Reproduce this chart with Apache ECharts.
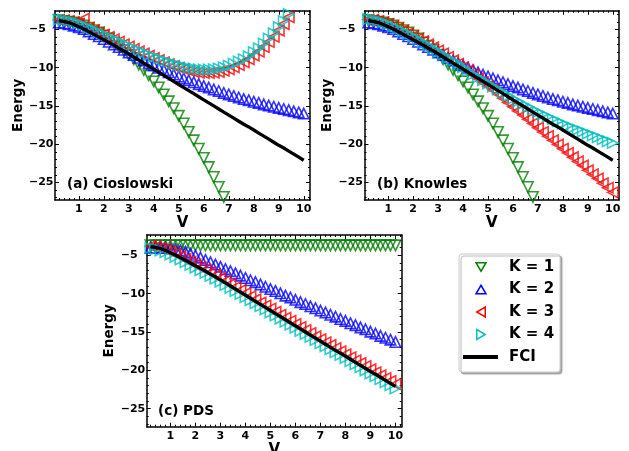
<!DOCTYPE html>
<html>
<head>
<meta charset="utf-8">
<script src="https://cdn.jsdelivr.net/npm/echarts@6/dist/echarts.min.js"></script>
<style>
  html, body { margin: 0; padding: 0; background: #fff; }
  #chart { width: 629px; height: 451px; }
</style>
</head>
<body>
<div id="chart"></div>
<script>
// coupling strength V (x values of every curve)
const V = [0.2, 0.4, 0.6, 0.8, 1.0, 1.2, 1.4, 1.6, 1.8, 2.0,
  2.2, 2.4, 2.6, 2.8, 3.0, 3.2, 3.4, 3.6, 3.8, 4.0,
  4.2, 4.4, 4.6, 4.8, 5.0, 5.2, 5.4, 5.6, 5.8, 6.0,
  6.2, 6.4, 6.6, 6.8, 7.0, 7.2, 7.4, 7.6, 7.8, 8.0,
  8.2, 8.4, 8.6, 8.8, 9.0, 9.2, 9.4, 9.6, 9.8, 10.0]

const X_TICKS = [1, 2, 3, 4, 5, 6, 7, 8, 9, 10]
const Y_TICKS = [-25, -20, -15, -10, -5]

// exact energy, same in the three panels
const FCI = [-3.85, -3.95, -4.1, -4.35, -4.65, -4.95, -5.3, -5.65, -6.0, -6.35,
  -6.7, -7.05, -7.45, -7.8, -8.2, -8.6, -9.0, -9.4, -9.8, -10.2,
  -10.6, -11.0, -11.4, -11.8, -12.2, -12.6, -13.0, -13.4, -13.8, -14.2,
  -14.6, -15.0, -15.4, -15.8, -16.2, -16.6, -17.0, -17.4, -17.75, -18.15,
  -18.55, -18.95, -19.35, -19.75, -20.15, -20.5, -20.9, -21.3, -21.7, -22.1]

// (a) Cioslowski
const CIOS_K1 = [-3.8, -3.9, -4.0, -4.1, -4.3, -4.5, -4.8, -5.1, -5.4, -5.8,
  -6.2, -6.7, -7.2, -7.7, -8.3, -8.9, -9.6, -10.3, -11.0, -11.8,
  -12.6, -13.5, -14.4, -15.3, -16.3, -17.3, -18.4, -19.5, -20.6, -21.8,
  -23.0, -24.3, -25.6, -26.9]
const CIOS_K2 = [-4.1, -4.2, -4.3, -4.5, -4.7, -4.95, -5.25, -5.6, -5.9, -6.25,
  -6.6, -6.95, -7.3, -7.65, -8.0, -8.35, -8.7, -9.05, -9.4, -9.7,
  -10.0, -10.3, -10.6, -10.9, -11.15, -11.4, -11.65, -11.9, -12.15, -12.4,
  -12.6, -12.85, -13.05, -13.3, -13.5, -13.7, -13.9, -14.1, -14.25, -14.45,
  -14.6, -14.8, -14.95, -15.1, -15.25, -15.4, -15.55, -15.7, -15.85, -16.0]
const CIOS_K3 = [-3.75, -3.8, -3.9, -4.05, -4.25, -3.6, -4.8, -5.1, -5.4, -5.7,
  -6.0, -6.3, -6.6, -6.95, -7.25, -7.55, -7.85, -8.15, -8.45, -8.75,
  -9.0, -9.3, -9.55, -9.8, -10.0, -10.2, -10.4, -10.55, -10.65, -10.7,
  -10.7, -10.65, -10.55, -10.4, -10.2, -9.95, -9.65, -9.3, -8.9, -8.4,
  -7.9, -7.3, -6.65, -5.95, -5.15, -4.3, -3.4, -2.5]
const CIOS_K4 = [-3.7, -3.75, -3.85, -4.0, -4.2, -4.45, -4.75, -5.05, -5.35, -5.65,
  -5.95, -6.25, -6.55, -6.85, -7.15, -7.45, -7.75, -8.0, -8.3, -8.55,
  -8.8, -9.05, -9.25, -9.45, -9.65, -9.85, -10.0, -10.1, -10.2, -10.25,
  -10.25, -10.2, -10.1, -9.95, -9.75, -9.5, -9.2, -8.9, -8.5, -7.95,
  -7.45, -6.85, -6.2, -5.5, -4.7, -3.9, -3.0, -2.1]

// (b) Knowles
const KNOW_K1 = CIOS_K1
const KNOW_K2 = CIOS_K2
const KNOW_K3 = [-3.7, -3.75, -3.9, -4.05, -4.3, -4.55, -4.85, -5.15, -5.5, -5.85,
  -6.2, -6.55, -6.95, -7.35, -7.75, -8.15, -8.6, -9.05, -9.5, -9.95,
  -10.4, -10.9, -11.4, -11.9, -12.4, -12.9, -13.45, -14.0, -14.55, -15.1,
  -15.65, -16.2, -16.75, -17.3, -17.85, -18.4, -18.95, -19.5, -20.05, -20.6,
  -21.15, -21.7, -22.25, -22.8, -23.4, -23.95, -24.5, -25.1, -25.7, -26.3]
const KNOW_K4 = [-3.65, -3.7, -3.85, -4.05, -4.3, -4.6, -4.9, -5.25, -5.6, -5.95,
  -6.3, -6.7, -7.1, -7.5, -7.9, -8.3, -8.7, -9.1, -9.5, -9.95,
  -10.4, -10.85, -11.25, -11.65, -12.05, -12.45, -12.85, -13.25, -13.65, -14.05,
  -14.4, -14.75, -15.1, -15.45, -15.8, -16.1, -16.4, -16.7, -17.0, -17.3,
  -17.6, -17.85, -18.1, -18.35, -18.6, -18.85, -19.1, -19.35, -19.6, -19.85]

// (c) PDS
const PDS_K1 = [-3.7, -3.7, -3.7, -3.7, -3.7, -3.7, -3.7, -3.7, -3.7, -3.7,
  -3.7, -3.7, -3.7, -3.7, -3.7, -3.7, -3.7, -3.7, -3.7, -3.7,
  -3.7, -3.7, -3.7, -3.7, -3.7, -3.7, -3.7, -3.7, -3.7, -3.7,
  -3.7, -3.7, -3.7, -3.7, -3.7, -3.7, -3.7, -3.7, -3.7, -3.7,
  -3.7, -3.7, -3.7, -3.7, -3.7, -3.7, -3.7, -3.7, -3.7, -3.7]
const PDS_K2 = [-4.0, -4.0, -4.0, -4.05, -4.1, -4.2, -4.35, -4.55, -4.8, -5.05,
  -5.3, -5.6, -5.9, -6.2, -6.5, -6.8, -7.05, -7.35, -7.65, -7.95,
  -8.25, -8.5, -8.8, -9.1, -9.4, -9.65, -9.95, -10.25, -10.5, -10.8,
  -11.1, -11.35, -11.65, -11.9, -12.2, -12.45, -12.75, -13.0, -13.3, -13.55,
  -13.85, -14.1, -14.4, -14.65, -14.95, -15.2, -15.5, -15.75, -16.0, -16.3]
const PDS_K3 = [-3.8, -3.9, -4.05, -4.25, -4.5, -4.8, -5.15, -5.5, -5.85, -6.2,
  -6.55, -6.9, -7.25, -7.6, -8.0, -8.35, -8.75, -9.15, -9.55, -9.95,
  -10.35, -10.75, -11.15, -11.55, -11.95, -12.35, -12.75, -13.15, -13.55, -13.95,
  -14.35, -14.75, -15.15, -15.55, -15.95, -16.35, -16.7, -17.1, -17.5, -17.9,
  -18.3, -18.7, -19.05, -19.45, -19.85, -20.25, -20.65, -21.0, -21.4, -21.8]
const PDS_K4 = [-4.05, -4.2, -4.35, -4.6, -4.9, -5.2, -5.55, -5.9, -6.25, -6.6,
  -6.95, -7.3, -7.7, -8.05, -8.45, -8.85, -9.25, -9.65, -10.05, -10.45,
  -10.85, -11.25, -11.65, -12.05, -12.45, -12.85, -13.25, -13.65, -14.05, -14.45,
  -14.85, -15.25, -15.65, -16.05, -16.45, -16.85, -17.25, -17.65, -18.0, -18.4,
  -18.8, -19.2, -19.6, -20.0, -20.4, -20.75, -21.15, -21.55, -21.95, -22.35]

const FONT = 'DejaVu Sans'
const K_STYLE = [
  { name: 'K = 1', color: '#008000', rotate: 180 },
  { name: 'K = 2', color: '#0000ff', rotate: 0 },
  { name: 'K = 3', color: '#ff0000', rotate: 90 },
  { name: 'K = 4', color: '#00bfbf', rotate: -90 },
]

const panels = [
  { grid: { left: 55, top: 10.7, width: 255, height: 189.3 }, ymin: -27.3, ymax: -2.55,
    label: '(a) Cioslowski', labelPos: [67, 177], data: [CIOS_K1, CIOS_K2, CIOS_K3, CIOS_K4] },
  { grid: { left: 364.5, top: 10.7, width: 254.5, height: 189.3 }, ymin: -27.3, ymax: -2.55,
    label: '(b) Knowles', labelPos: [377, 177], data: [KNOW_K1, KNOW_K2, KNOW_K3, KNOW_K4] },
  { grid: { left: 146.7, top: 235, width: 255, height: 191.7 }, ymin: -27.35, ymax: -2.35,
    label: '(c) PDS', labelPos: [158, 404], data: [PDS_K1, PDS_K2, PDS_K3, PDS_K4] },
]

// minor ticks every 0.2 on x and every 1 on y
const xMinor = []
for (let i = 1; i <= 51; i++) if (i % 5) xMinor.push(+(i * 0.2).toFixed(1))
const yMinor = []
for (let v = -27; v <= -3; v++) if (v % 5) yMinor.push(v)

const tickLabel = {
  fontFamily: FONT, fontWeight: 'bold', fontSize: 11, color: '#000',
  formatter: v => (v < 0 ? '\u2212' + Math.abs(v) : String(v)),
}
const frameLine = { show: true, onZero: false, lineStyle: { color: '#000', width: 1.5 } }

function axes(p, dim, min, max, major, minor) {
  const base = {
    type: 'value', gridIndex: p, min, max, scale: true,
    splitLine: { show: false }, axisLine: { show: false, onZero: false },
    axisLabel: { show: false }, axisTick: { show: false },
  }
  const tick = (vals, len) => ({
    show: true, inside: true, length: len, customValues: vals,
    lineStyle: { color: '#000', width: 1 },
  })
  const isX = dim === 'x'
  const sides = isX ? ['bottom', 'top'] : ['left', 'right']
  const name = isX
    ? { name: 'V', nameLocation: 'middle', nameGap: 13,
        nameTextStyle: { fontFamily: FONT, fontWeight: 'bold', fontSize: 15, color: '#000' } }
    : { name: 'Energy', nameLocation: 'middle', nameGap: 26,
        nameTextStyle: { fontFamily: FONT, fontWeight: 'bold', fontSize: 13.5, color: '#000' } }
  // y labels in the original sit flush left, so "−5" ends short of the others
  const labelPlace = isX ? { margin: 4 } : { margin: 26, align: 'left' }
  return [
    { ...base, ...name, position: sides[0], axisLine: frameLine, axisTick: tick(major, 4),
      axisLabel: { show: true, customValues: major, ...labelPlace, ...tickLabel } },
    { ...base, position: sides[0], axisTick: tick(minor, 2) },
    { ...base, position: sides[1], axisLine: frameLine, axisTick: tick(major, 4) },
    { ...base, position: sides[1], axisTick: tick(minor, 2) },
  ]
}

const grids = []
const xAxis = []
const yAxis = []
const series = []
const graphic = []

panels.forEach((pn, p) => {
  grids.push({ ...pn.grid, outerBoundsMode: 'none', containLabel: false })
  xAxis.push(...axes(p, 'x', 0.05, 10.25, X_TICKS, xMinor))
  yAxis.push(...axes(p, 'y', pn.ymin, pn.ymax, Y_TICKS, yMinor))
  pn.data.forEach((vals, k) => {
    series.push({
      type: 'scatter',
      name: K_STYLE[k].name,
      xAxisIndex: 4 * p,
      yAxisIndex: 4 * p,
      data: vals.map((e, i) => [V[i], e]),
      symbol: 'triangle',
      symbolSize: 10.5,
      symbolRotate: K_STYLE[k].rotate,
      itemStyle: { color: 'rgba(0,0,0,0)', borderColor: K_STYLE[k].color, borderWidth: 1.6 },
      silent: true,
      z: 2 + k,
    })
  })
  series.push({
    type: 'line',
    name: 'FCI',
    xAxisIndex: 4 * p,
    yAxisIndex: 4 * p,
    data: FCI.map((e, i) => [V[i], e]),
    symbol: 'none',
    lineStyle: { color: '#000', width: 3.3 },
    silent: true,
    z: 8,
  })
  graphic.push({
    type: 'text', left: pn.labelPos[0], top: pn.labelPos[1], z: 20,
    style: { text: pn.label, font: `bold 13.5px "${FONT}"`, fill: '#000' },
  })
})

// legend box drawn by hand, lower right
const LEG_X = 481
const LEG_ROWS = [267, 289.5, 312, 334.5, 357]
const tri = (cx, cy, dir) => {
  const s = 5
  const pts = {
    down: [[cx - s, cy - s * 0.85], [cx + s, cy - s * 0.85], [cx, cy + s * 0.85]],
    up: [[cx - s, cy + s * 0.85], [cx + s, cy + s * 0.85], [cx, cy - s * 0.85]],
    left: [[cx + s * 0.85, cy - s], [cx + s * 0.85, cy + s], [cx - s * 0.85, cy]],
    right: [[cx - s * 0.85, cy - s], [cx - s * 0.85, cy + s], [cx + s * 0.85, cy]],
  }
  return pts[dir]
}
graphic.push({
  type: 'rect', z: 30,
  shape: { x: 459, y: 254, width: 101, height: 118, r: 3 },
  style: { fill: '#fff', stroke: '#cccccc', lineWidth: 1,
    shadowColor: 'rgba(0,0,0,0.3)', shadowOffsetX: 2, shadowOffsetY: 2, shadowBlur: 1 },
})
const dirs = ['down', 'up', 'left', 'right']
K_STYLE.forEach((ks, k) => {
  graphic.push({
    type: 'polygon', z: 31,
    shape: { points: tri(LEG_X, LEG_ROWS[k], dirs[k]) },
    style: { fill: 'none', stroke: ks.color, lineWidth: 1.5 },
  })
  graphic.push({
    type: 'text', z: 31, x: 509, y: LEG_ROWS[k],
    style: { text: ks.name, font: `bold 15px "${FONT}"`, fill: '#000', verticalAlign: 'middle' },
  })
})
graphic.push({
  type: 'line', z: 31,
  shape: { x1: 463, y1: LEG_ROWS[4], x2: 498, y2: LEG_ROWS[4] },
  style: { stroke: '#000', lineWidth: 4 },
})
graphic.push({
  type: 'text', z: 31, x: 509, y: LEG_ROWS[4],
  style: { text: 'FCI', font: `bold 15px "${FONT}"`, fill: '#000', verticalAlign: 'middle' },
})

const chart = echarts.init(document.getElementById('chart'))
chart.setOption({
  animation: false,
  backgroundColor: '#fff',
  grid: grids,
  xAxis,
  yAxis,
  series,
  graphic,
})
</script>
</body>
</html>
